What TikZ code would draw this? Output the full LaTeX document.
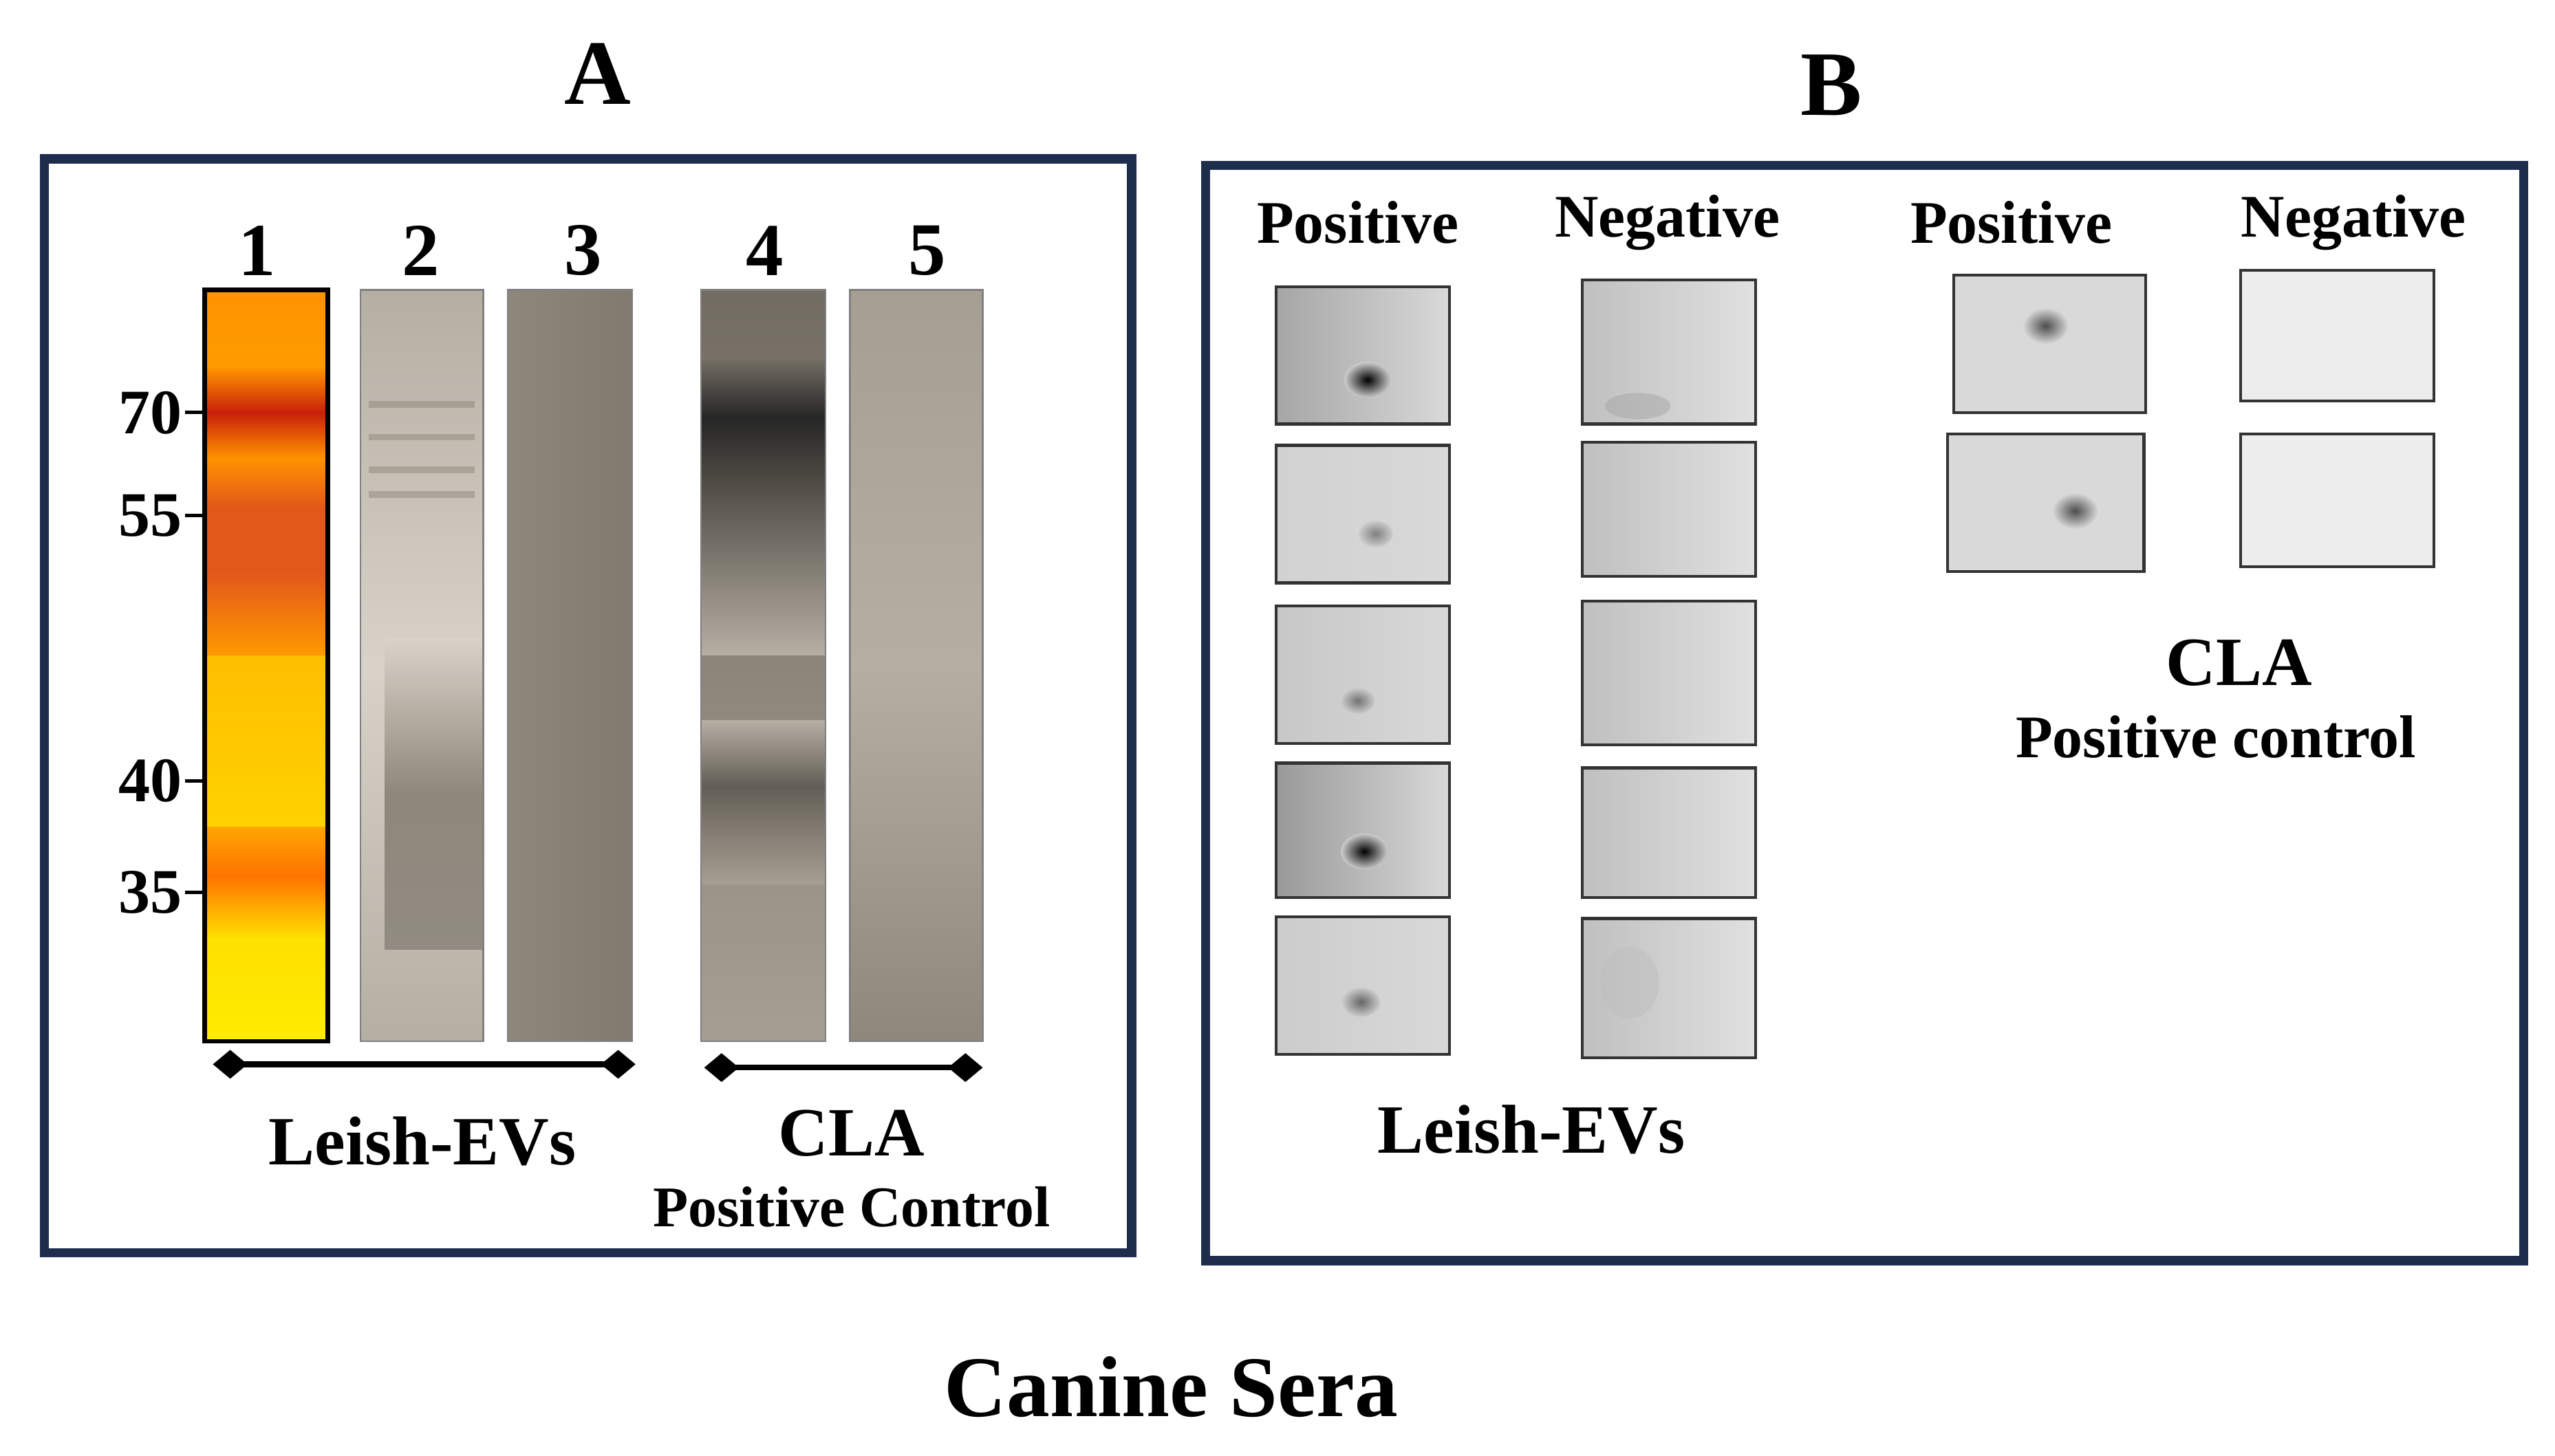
\documentclass[tikz,border=0pt]{standalone}
\usepackage{fontspec}
\setmainfont{Liberation Serif}
\usetikzlibrary{arrows.meta}
\definecolor{navy}{HTML}{1F2D4D}
\definecolor{beigeA}{HTML}{8E877B}
\definecolor{beigeB}{HTML}{B5AEA3}
\definecolor{beigeC}{HTML}{D9D2C8}
\definecolor{beigeD}{HTML}{A69E92}
\definecolor{bandR}{HTML}{C8200A}
\definecolor{bandO}{HTML}{E2581A}
\begin{document}
\begin{tikzpicture}[x=0.01cm,y=-0.01cm,
  lbl/.style={font=\bfseries\fontsize{10.5}{12}\selectfont,inner sep=0},
  big/.style={font=\bfseries\fontsize{16}{18}\selectfont,inner sep=0},
  frame/.style={draw=navy,line width=1.6pt},
  blot/.style={draw=black!80,line width=0.5pt},
  mk/.style={font=\bfseries\fontsize{11}{12}\selectfont,inner sep=0,anchor=east}]
\useasboundingbox (0,0) rectangle (1560,889);
\fill[white] (0,0) rectangle (1560,889);
% Panel A
\node[big] (A) at (365,45) {A};
\draw[frame] (27,97) rectangle (691,765);
% lane 1
\shade[top color=orange!85!yellow, bottom color=yellow!85!orange] (125,177) rectangle (200,636);
\begin{scope}
\clip (125,177) rectangle (200,636);
\shade[top color=orange!85!yellow, bottom color=bandR] (125,225) rectangle (200,252);
\shade[top color=bandR, bottom color=orange!85!yellow] (125,252) rectangle (200,280);
\shade[top color=orange!85!yellow, bottom color=bandO] (125,280) rectangle (200,310);
\fill[bandO] (125,310) rectangle (200,350);
\shade[top color=bandO, bottom color=orange!80!yellow] (125,350) rectangle (200,400);
\shade[top color=orange!70!yellow, bottom color=orange!90!red] (125,505) rectangle (200,535);
\shade[top color=orange!90!red, bottom color=yellow!80!orange] (125,535) rectangle (200,575);
\end{scope}
\draw[black,line width=0.8pt] (125,177) rectangle (200,636);
% lane 2
\shade[top color=beigeB, bottom color=beigeB, middle color=beigeC] (220,177) rectangle (295,636);
\shade[top color=beigeC, bottom color=beigeB!80!black, middle color=beigeA] (235,390) rectangle (295,580);
\foreach \yy in {245,265,285,300} \fill[beigeA,opacity=0.5] (225,\yy) rectangle (290,\yy+4);
\draw[black!50,line width=0.3pt] (220,177) rectangle (295,636);
% lane 3
\shade[left color=beigeA, right color=beigeA!90!black] (310,177) rectangle (386,636);
\draw[black!50,line width=0.3pt] (310,177) rectangle (386,636);
% lane 4
\shade[top color=beigeA!80!black, bottom color=beigeD] (428,177) rectangle (504,636);
\begin{scope}
\clip (428,177) rectangle (504,636);
\shade[top color=beigeA!80!black, bottom color=black!85] (428,220) rectangle (504,255);
\shade[top color=black!85, bottom color=beigeA!60!black] (428,255) rectangle (504,300);
\shade[top color=beigeA!60!black, bottom color=beigeB] (428,300) rectangle (504,400);
\shade[top color=beigeB, bottom color=beigeA!70!black] (428,440) rectangle (504,480);
\shade[top color=beigeA!70!black, bottom color=beigeD] (428,480) rectangle (504,540);
\end{scope}
\draw[black!50,line width=0.3pt] (428,177) rectangle (504,636);
% lane 5
\shade[top color=beigeD, bottom color=beigeA, middle color=beigeB] (519,177) rectangle (600,636);
\draw[black!50,line width=0.3pt] (519,177) rectangle (600,636);
% numbers
\foreach \n/\xx in {1/157,2/257,3/356,4/467,5/566}
  \node[lbl,font=\bfseries\fontsize{13}{14}\selectfont] (n\n) at (\xx,153) {\n};
% markers
\foreach \m/\yy in {70/252,55/315,40/477,35/545}{
  \coordinate (t\m) at (125,\yy);
  \draw[line width=0.6pt] (t\m) -- ++(-12,0);
  \node[mk] (m\m) at (112,\yy) {\m};}
% range lines
\coordinate (l1) at (130,650); \coordinate (l2) at (388,650);
\coordinate (l3) at (430,652); \coordinate (l4) at (600,652);
\draw[line width=1pt,{Diamond[length=6pt,width=5pt]}-{Diamond[length=6pt,width=5pt]}] (l1) -- (l2);
\draw[line width=1pt,{Diamond[length=6pt,width=5pt]}-{Diamond[length=6pt,width=5pt]}] (l3) -- (l4);
\node[lbl,font=\bfseries\fontsize{12}{14}\selectfont] (lev) at (258,697) {Leish-EVs};
\node[lbl,font=\bfseries\fontsize{12}{14}\selectfont] (cla) at (520,692) {CLA};
\node[lbl,font=\bfseries\fontsize{10}{12}\selectfont] (pc) at (520,737) {Positive Control};
% Panel B
\node[big] (B) at (1118,52) {B};
\draw[frame] (736,101) rectangle (1541,770);
\node[lbl] (h1) at (829,136) {Positive};
\node[lbl] (h2) at (1018,136) {Negative};
\node[lbl] (h3) at (1228,136) {Positive};
\node[lbl] (h4) at (1437,136) {Negative};
% positive blots
\foreach \ya/\yb/\dx/\dy/\r/\c/\bg in {175/259/835/232/11/black/35, 272/356/840/326/8/black!50/18, 370/454/829/428/8/black!55/22, 466/548/833/520/11/black/40, 560/644/831/612/9/black!60/20}{
  \shade[left color=black!\bg, right color=black!15] (779,\ya) rectangle (885,\yb);
  \shade[inner color=\c, outer color=black!20] (\dx,\dy) ellipse ({\r*1.3} and \r);
  \draw[blot] (779,\ya) rectangle (885,\yb);}
% negative blots
\foreach \ya/\yb in {171/259,270/352,367/455,469/548,561/646}{
  \shade[left color=black!25, right color=black!12] (966,\ya) rectangle (1072,\yb);
  \draw[blot] (966,\ya) rectangle (1072,\yb);}
\fill[black!35,opacity=0.5] (1000,248) ellipse (20 and 8);
\fill[black!25,opacity=0.5] (995,600) ellipse (18 and 22);
% CLA blots
\foreach \ya/\yb/\xa/\xb/\dx/\dy in {168/252/1193/1310/1249/199, 265/349/1189/1309/1267/312}{
  \fill[black!15] (\xa,\ya) rectangle (\xb,\yb);
  \shade[inner color=black!70, outer color=black!15] (\dx,\dy) ellipse (14 and 11);
  \draw[blot] (\xa,\ya) rectangle (\xb,\yb);}
\foreach \ya/\yb in {165/245,265/346}{
  \fill[black!7] (1368,\ya) rectangle (1486,\yb);
  \draw[blot] (1368,\ya) rectangle (1486,\yb);}
\node[lbl,font=\bfseries\fontsize{12}{14}\selectfont] (cla2) at (1367,405) {CLA};
\node[lbl] (pc2) at (1353,450) {Positive control};
\node[lbl,font=\bfseries\fontsize{12}{14}\selectfont] (lev2) at (935,690) {Leish-EVs};
\node[big,font=\bfseries\fontsize{15}{18}\selectfont] (cs) at (715,847) {Canine Sera};
\end{tikzpicture}
\end{document}
